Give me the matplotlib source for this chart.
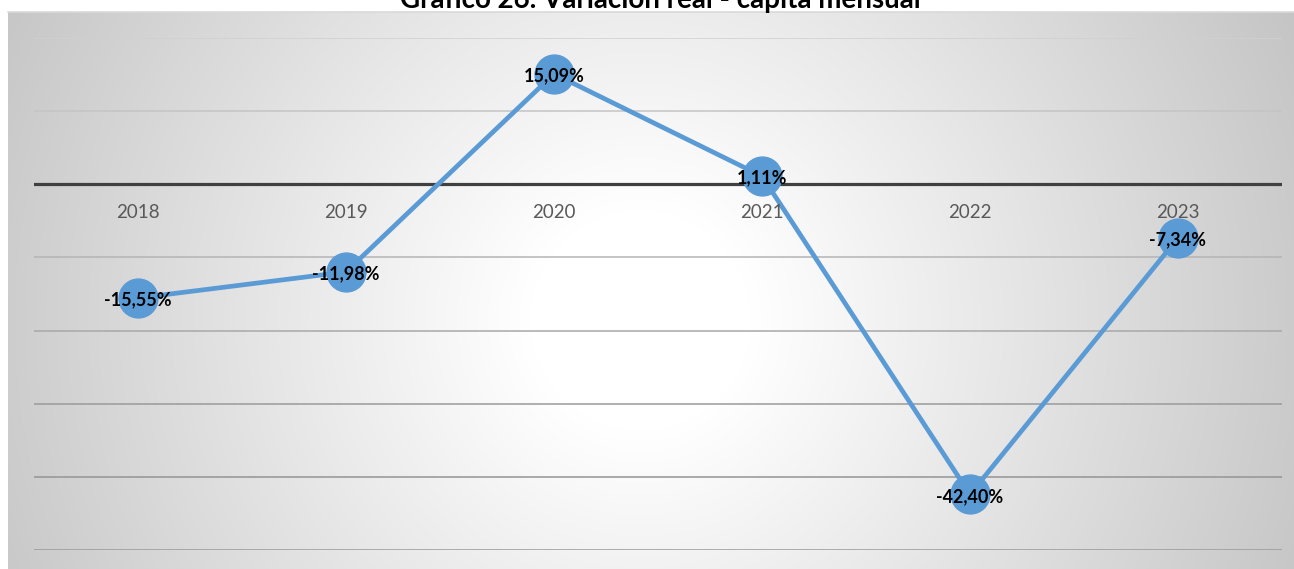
import numpy as np
import matplotlib
matplotlib.use("Agg")
import matplotlib.pyplot as plt

years = ["2018", "2019", "2020", "2021", "2022", "2023"]
variation = [-15.55, -11.98, 15.09, 1.11, -42.40, -7.34]
grid_levels = [20, 10, -10, -20, -30, -40, -50]
grid_colors = ["#d0d0d0", "#c4c4c4", "#b4b4b4", "#a8a8a8", "#9a9a9a", "#949494", "#9a9a9a"]
title = "Gráfico 26. Variación real - cápita mensual"

W, H = 1294, 569
DPI = 100
fig = plt.figure(figsize=(W / DPI, H / DPI), dpi=DPI)
fig.patch.set_facecolor("white")

def px_rect(x0, y0, x1, y1):
    return [x0 / W, 1 - y1 / H, (x1 - x0) / W, (y1 - y0) / H]

# radial grey-to-white background of the chart area
bx0, by0, bx1, by1 = 8, 12, W, H
bg = fig.add_axes(px_rect(bx0, by0, bx1, by1))
xs = np.arange(bx0, bx1)
ys = np.arange(by0, by1)
X, Y = np.meshgrid(xs, ys)
r = np.hypot(X - 640, Y - 320)
shade = 255 - np.clip(0.095 * (r - 110), 0, None)
shade = np.clip(shade, 190, 255) / 255.0
bg.imshow(np.dstack([shade] * 3), aspect="auto", interpolation="bilinear",
          extent=(0, 1, 0, 1))
bg.set_axis_off()
fig.add_artist(plt.Line2D([bx0 / W, 1], [1 - by0 / H] * 2, color="#d9d9d9", lw=1.2))

ax = fig.add_axes(px_rect(34, 38, 1282, 550))
ax.set_facecolor("none")
ax.set_xlim(-0.5, len(years) - 0.5)
ax.set_ylim(-50, 20)
ax.set_axis_off()

for lvl, c in zip(grid_levels, grid_colors):
    ax.axhline(lvl, color=c, lw=1.1, zorder=1)
ax.axhline(0, color="#404040", lw=2.3, zorder=2)

xpos = np.arange(len(years))
ax.plot(xpos, variation, color="#5B9BD5", lw=3.4, marker="o", markersize=28,
        markerfacecolor="#5B9BD5", markeredgecolor="#5B9BD5", zorder=3,
        clip_on=False)

for i, yr in enumerate(years):
    ax.annotate(yr, (i, 0), xytext=(0, -28), textcoords="offset pixels",
                ha="center", va="center", fontsize=13.5, color="#595959",
                family="Lato", zorder=4)

for i, v in enumerate(variation):
    label = f"{v:.2f}".replace(".", ",") + "%"
    ax.annotate(label, (i, v), xytext=(0, -2), textcoords="offset pixels",
                ha="center", va="center", fontsize=13, fontweight="bold",
                color="black", family="Lato", zorder=5, annotation_clip=False)

fig.text(0.51, 1 - 8 / H, title, ha="center", va="baseline", fontsize=20,
         fontweight="bold", family="Lato", color="black")

fig.savefig("out.png", dpi=DPI)
